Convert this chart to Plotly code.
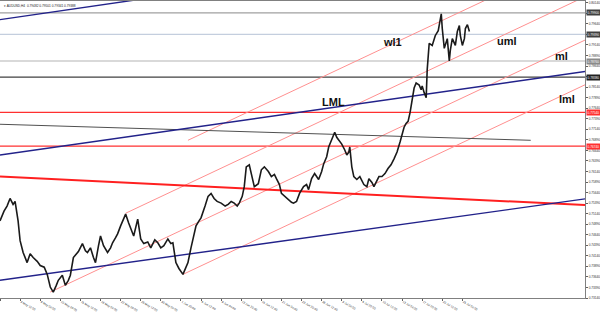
import plotly.graph_objects as go

# ---------------- data ----------------
bar_pos = [0, 4, 7, 10, 13, 15, 18, 20, 23, 27, 30, 33, 37, 40, 44, 47, 50, 53, 56, 58,
           62, 65, 68, 70, 73, 76, 78, 82, 85, 87, 90, 93, 95, 98, 100, 103, 107, 110, 112, 115,
           117, 120, 123, 125, 128, 131, 133, 137, 140, 143, 147, 150, 154, 157, 160, 163, 167, 170, 172, 175,
           178, 182, 185, 187, 190, 192, 195, 198, 200, 204, 207, 210, 213, 216, 220, 224, 227, 230, 233, 236,
           238, 241, 243, 245, 248, 250, 253, 257, 260, 263, 267, 270, 273, 275, 278, 280, 283, 287, 290, 292,
           295, 298, 302, 305, 307, 310, 313, 317, 320, 322, 325, 327, 330, 333, 335, 337, 340, 343, 345, 347,
           348, 350, 352, 355, 358, 362, 365, 367, 370, 372, 375, 377, 380, 383, 386, 389, 392, 395, 398, 400,
           402, 404, 406, 408, 410, 412, 414, 417, 419, 420, 422, 424, 425, 427, 430, 433, 436, 438, 439, 440,
           442, 445, 447, 448, 450, 453, 455, 457, 458, 460, 462, 463, 465, 467]
close = [0.7497, 0.7520, 0.7532, 0.7550, 0.7536, 0.7543, 0.7497, 0.7450, 0.7422, 0.7398, 0.7419, 0.7410, 0.7401, 0.7391, 0.7387, 0.7370, 0.7340, 0.7328, 0.7344, 0.7356,
         0.7368, 0.7344, 0.7356, 0.7368, 0.7410, 0.7419, 0.7424, 0.7443, 0.7426, 0.7422, 0.7433, 0.7410, 0.7398, 0.7438, 0.7461, 0.7438, 0.7422, 0.7433, 0.7445, 0.7457,
         0.7466, 0.7485, 0.7504, 0.7513, 0.7492, 0.7473, 0.7461, 0.7501, 0.7454, 0.7443, 0.7447, 0.7433, 0.7452, 0.7445, 0.7433, 0.7438, 0.7454, 0.7443, 0.7445, 0.7398,
         0.7384, 0.7370, 0.7387, 0.7398, 0.7433, 0.7454, 0.7485, 0.7497, 0.7504, 0.7532, 0.7555, 0.7562, 0.7550, 0.7543, 0.7539, 0.7532, 0.7536, 0.7543, 0.7539, 0.7532,
         0.7539, 0.7555, 0.7578, 0.7625, 0.7630, 0.7609, 0.7578, 0.7585, 0.7618, 0.7625, 0.7614, 0.7602, 0.7607, 0.7597, 0.7583, 0.7562, 0.7555, 0.7548, 0.7541, 0.7539,
         0.7543, 0.7562, 0.7578, 0.7583, 0.7571, 0.7597, 0.7609, 0.7595, 0.7614, 0.7632, 0.7649, 0.7672, 0.7688, 0.7707, 0.7695, 0.7688, 0.7679, 0.7665, 0.7653, 0.7660,
         0.7672, 0.7625, 0.7602, 0.7595, 0.7602, 0.7583, 0.7578, 0.7597, 0.7588, 0.7578, 0.7592, 0.7602, 0.7602, 0.7609, 0.7621, 0.7630, 0.7644, 0.7660, 0.7684, 0.7700,
         0.7719, 0.7728, 0.7733, 0.7754, 0.7789, 0.7812, 0.7824, 0.7819, 0.7808, 0.7817, 0.7801, 0.7789, 0.7855, 0.7918, 0.7913, 0.7936, 0.7948, 0.7972, 0.7988, 0.7953,
         0.7906, 0.7929, 0.7876, 0.7901, 0.7929, 0.7913, 0.7946, 0.7960, 0.7936, 0.7913, 0.7929, 0.7953, 0.7962, 0.7946]

x_tick_pos = [0, 20, 40, 60, 80, 100, 120, 140, 160, 180, 200, 220, 240, 260, 280, 300,
              320, 340, 360, 380, 400, 420, 440, 460]
x_tick_text = ["28 Apr 2017", "3 May 12:00", "8 May 04:00", "10 May 20:00", "15 May 12:00",
               "18 May 04:00", "22 May 20:00", "25 May 12:00", "30 May 04:00", "1 Jun 20:00",
               "6 Jun 12:00", "9 Jun 04:00", "13 Jun 20:00", "16 Jun 12:00", "21 Jun 04:00",
               "23 Jun 20:00", "28 Jun 12:00", "3 Jul 04:00", "5 Jul 20:00", "10 Jul 12:00",
               "13 Jul 04:00", "17 Jul 20:00", "20 Jul 12:00", "25 Jul 04:00"]

# horizontal levels
hline_price = [0.7990, 0.7939, 0.7876, 0.7838, 0.7754, 0.7674]
hline_color = ["#a0a0a0", "#c4cede", "#b4b4b4", "#404040", "#ff3030", "#ff3030"]
hline_tag = ["#404040", "#404040", "#8a8a8a", "#202020", "#ff3030", "#ff3030"]

# trend lines: (x0, p0, x1, p1)
blue_lines = [(0, 0.7974, 585, 0.8177), (0, 0.7653, 585, 0.7852), (0, 0.7356, 585, 0.7550)]
red_trend = (0, 0.7602, 585, 0.7534)
gray_trend = (0, 0.7726, 528, 0.7688)
pink_lines = [(187, 0.7688, 585, 0.8135), (125, 0.7515, 585, 0.8032),
              (50, 0.7328, 585, 0.7929), (182, 0.7370, 585, 0.7823)]

line_labels = ["wl1", "uml", "ml", "lml", "LML"]
label_x = [390, 504, 559, 564, 332]
label_p = [0.7922, 0.7923, 0.7888, 0.7787, 0.7778]

title_text = "\u25be AUDUSD,H4  0.79482 0.79501 0.79341 0.79388"

y_min, y_max = 0.7314, 0.80183
x_min, x_max = 0, 582

# ---------------- figure ----------------
fig = go.Figure()

for p, c in zip(hline_price, hline_color):
    fig.add_trace(go.Scatter(x=[x_min, x_max], y=[p, p], mode="lines",
                             line=dict(color=c, width=1.2), hoverinfo="skip", showlegend=False))

for (x0, p0, x1, p1) in pink_lines:
    fig.add_trace(go.Scatter(x=[x0, x1], y=[p0, p1], mode="lines",
                             line=dict(color="#ff9090", width=1), hoverinfo="skip", showlegend=False))

fig.add_trace(go.Scatter(x=[gray_trend[0], gray_trend[2]], y=[gray_trend[1], gray_trend[3]], mode="lines",
                         line=dict(color="#505050", width=1), hoverinfo="skip", showlegend=False))
fig.add_trace(go.Scatter(x=[red_trend[0], red_trend[2]], y=[red_trend[1], red_trend[3]], mode="lines",
                         line=dict(color="#ff2020", width=2), hoverinfo="skip", showlegend=False))
for (x0, p0, x1, p1) in blue_lines:
    fig.add_trace(go.Scatter(x=[x0, x1], y=[p0, p1], mode="lines",
                             line=dict(color="#22228a", width=1.4), hoverinfo="skip", showlegend=False))

fig.add_trace(go.Scatter(x=bar_pos, y=close, mode="lines",
                         line=dict(color="#1a1a1a", width=1.6), showlegend=False))

for t, x, p in zip(line_labels, label_x, label_p):
    fig.add_annotation(x=x, y=p, text=t, showarrow=False,
                       font=dict(family="Liberation Sans, Arial", size=11, color="#111111", weight="bold"))

for p, c in zip(hline_price, hline_tag):
    fig.add_annotation(xref="paper", x=1.0, y=p, xanchor="left", text=f"{p:.5f}", showarrow=False,
                       bgcolor=c, borderpad=0.6, xshift=1,
                       font=dict(family="Liberation Sans, Arial", size=3.2, color="white"))

fig.add_annotation(xref="paper", yref="paper", x=0.004, y=0.997, xanchor="left", yanchor="top",
                   text=title_text, showarrow=False,
                   font=dict(family="Liberation Sans, Arial", size=3.2, color="#222222"))

fig.update_layout(
    width=600, height=313,
    margin=dict(l=0, r=15, t=1, b=10),
    paper_bgcolor="white", plot_bgcolor="white",
    xaxis=dict(range=[x_min, x_max], tickvals=x_tick_pos, ticktext=x_tick_text,
               showgrid=False, zeroline=False, showline=True, linecolor="#808080", linewidth=1,
               mirror=True, ticks="outside", ticklen=2, tickcolor="#606060",
               ticklabelposition="outside right",
               tickfont=dict(family="Liberation Sans, Arial", size=3, color="#333333")),
    yaxis=dict(range=[y_min, y_max], side="right", tick0=y_min, dtick=0.0025, tickformat=".5f",
               showgrid=False, zeroline=False, showline=True, linecolor="#808080", linewidth=1,
               ticks="outside", ticklen=2, tickcolor="#606060",
               tickfont=dict(family="Liberation Sans, Arial", size=3.2, color="#333333")),
)

fig.write_html("out.html")
